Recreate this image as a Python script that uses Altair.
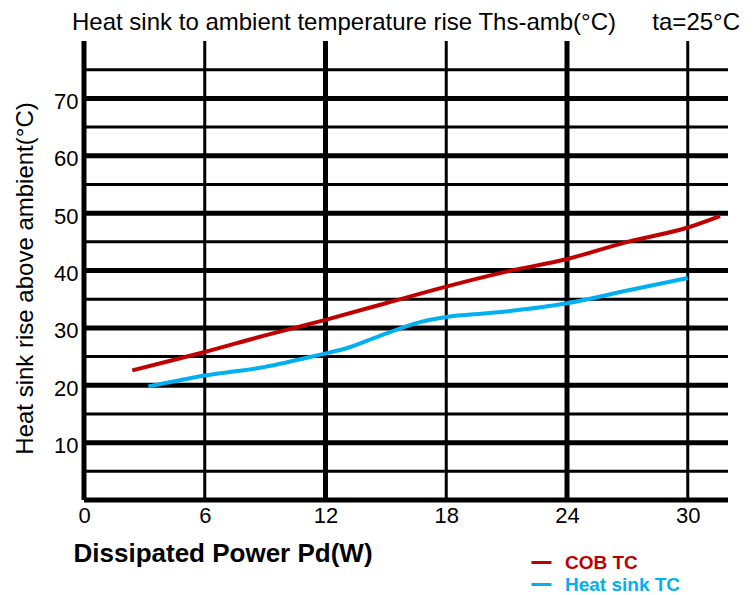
import altair as alt
import pandas as pd

# ---- data ----
cob_x = [2.4, 4, 6, 9, 12, 15, 18, 21, 24, 27, 30, 31.6]
cob_y = [22.6, 24.0, 25.8, 28.7, 31.4, 34.3, 37.2, 39.8, 42.0, 45.0, 47.5, 49.5]
hs_x = [3.2, 4.5, 6, 9, 11.7, 13, 14.7, 16.7, 18, 20.2, 22.7, 24, 27, 30]
hs_y = [19.8, 20.7, 21.7, 23.2, 25.3, 26.4, 28.6, 31.0, 31.9, 32.6, 33.6, 34.3, 36.5, 38.7]
series = ["COB TC", "Heat sink TC"]
colors = ["#C00000", "#00B0F0"]
title_text = ["Heat sink to ambient temperature rise Ths-amb(°C)"]
note_text = ["ta=25°C"]

x_ticks = [0, 6, 12, 18, 24, 30]
y_ticks = [10, 20, 30, 40, 50, 60, 70]
grid_y_thick = [0, 10, 20, 30, 40, 50, 60, 70]
grid_y_thin = [5, 15, 25, 35, 45, 55, 65, 75]
grid_x_thick = [0, 12, 24]
grid_x_thin = [6, 18, 30]

lines = pd.DataFrame(
    {"x": cob_x + hs_x,
     "y": cob_y + hs_y,
     "s": [series[0]] * len(cob_x) + [series[1]] * len(hs_x)}
)
hgrid = pd.DataFrame({"v": grid_y_thick + grid_y_thin,
                      "w": [5] * len(grid_y_thick) + [3] * len(grid_y_thin)})
vgrid = pd.DataFrame({"v": grid_x_thick + grid_x_thin,
                      "w": [5] * len(grid_x_thick) + [3] * len(grid_x_thin)})

FONT = "Liberation Sans"
xscale = alt.Scale(domain=[0, 32], nice=False, zero=False)
yscale = alt.Scale(domain=[0, 80], nice=False, zero=False)

xaxis = alt.Axis(values=x_ticks, grid=False, domain=False, ticks=False, tickSize=0,
                 labelFontSize=22, labelFont=FONT, labelColor="black", labelPadding=5,
                 title="Dissipated Power Pd(W)", titleFontSize=26, titleFont=FONT,
                 titleFontWeight="bold", titleColor="black", titleX=-11, titleY=61,
                 titleAlign="left", titleBaseline="alphabetic", labelFlush=False)
yaxis = alt.Axis(values=y_ticks, grid=False, domain=False, ticks=False, tickSize=0,
                 labelFontSize=22, labelFont=FONT, labelColor="black", labelPadding=6,
                 labelOffset=3,
                 title="Heat sink rise above ambient(°C)", titleFontSize=24, titleFont=FONT,
                 titleFontWeight="normal", titleColor="black", titleX=-59, titleY=237,
                 titleAlign="center", titleBaseline="middle", titleAngle=-90)

h = alt.Chart(hgrid).mark_rule(color="black", strokeCap="butt").encode(
    y=alt.Y("v:Q", scale=yscale, axis=yaxis),
    strokeWidth=alt.StrokeWidth("w:Q", scale=None),
)
v = alt.Chart(vgrid).mark_rule(color="black", strokeCap="butt").encode(
    x=alt.X("v:Q", scale=xscale, axis=xaxis),
    strokeWidth=alt.StrokeWidth("w:Q", scale=None),
)
ln = alt.Chart(lines).mark_line(strokeWidth=4, interpolate="monotone").encode(
    x=alt.X("x:Q", scale=xscale, axis=xaxis),
    y=alt.Y("y:Q", scale=yscale, axis=yaxis),
    color=alt.Color("s:N", scale=alt.Scale(domain=series, range=colors),
                    sort=series,
                    legend=alt.Legend(orient="none", legendX=446, legendY=510, title=None,
                                      symbolType="stroke", symbolSize=400,
                                      symbolStrokeWidth=3, labelFontSize=19,
                                      labelFont=FONT, labelFontWeight="bold",
                                      labelColor={"expr": "datum.value == 'COB TC' ? '#C00000' : '#00B0F0'"},
                                      labelOffset=12, rowPadding=0)),
)

ttl = alt.Chart(pd.DataFrame({"t": title_text})).mark_text(
    align="left", baseline="alphabetic", fontSize=24, font=FONT, color="black"
).encode(text="t:N", x=alt.value(-12), y=alt.value(-11))
note = alt.Chart(pd.DataFrame({"t": note_text})).mark_text(
    align="right", baseline="alphabetic", fontSize=24, font=FONT, color="black"
).encode(text="t:N", x=alt.value(656), y=alt.value(-11))

chart = alt.layer(h, v, ln, ttl, note).properties(
    width=644,
    height=459,
    autosize=alt.AutoSizeParams(type="none"),
    padding={"left": 76, "top": 33, "right": 18, "bottom": 95},
).configure_view(stroke=None)

chart.save("out.html", embed_options={"renderer": "svg", "actions": False})
